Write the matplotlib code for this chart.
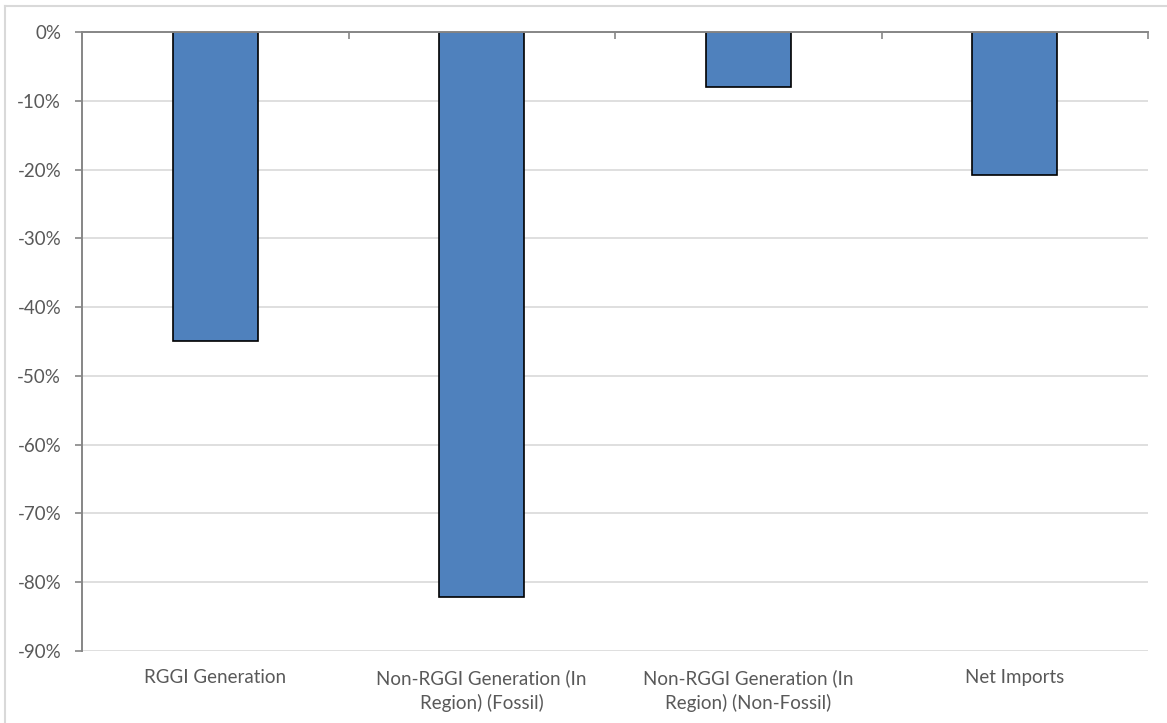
import matplotlib
matplotlib.use("Agg")
import matplotlib.pyplot as plt
from matplotlib.ticker import FixedLocator, FuncFormatter
from matplotlib.lines import Line2D

categories = [
    "RGGI Generation",
    "Non-RGGI Generation (In\nRegion) (Fossil)",
    "Non-RGGI Generation (In\nRegion) (Non-Fossil)",
    "Net Imports",
]
values = [-44.9, -82.2, -8.0, -20.8]
y_ticks = [0, -10, -20, -30, -40, -50, -60, -70, -80, -90]

bar_color = "#4f81bd"
text_color = "#595959"
axis_color = "#868686"
grid_color = "#d9d9d9"

plt.rcParams["font.family"] = ["Lato", "DejaVu Sans"]

fig = plt.figure(figsize=(11.67, 7.23), dpi=100)
ax = fig.add_axes([82 / 1167, 1 - 651 / 723, (1148 - 82) / 1167, (651 - 32) / 723])

x = list(range(len(categories)))
ax.bar(x, values, width=0.32, color=bar_color, edgecolor="black", linewidth=1.2, zorder=3)

ax.set_xlim(-0.5, len(categories) - 0.5)
ax.set_ylim(-90, 0)
ax.set_yticks(y_ticks)
ax.yaxis.set_major_formatter(FuncFormatter(lambda v, _: f"{v:.0f}%"))
ax.yaxis.grid(True, color=grid_color, linewidth=1.2, zorder=0)
ax.set_axisbelow(True)

# category labels along the bottom, separator ticks hanging from the zero line
ax.set_xticks(x)
ax.set_xticklabels(categories, fontsize=13.5, color=text_color, linespacing=1.46)
ax.tick_params(axis="x", which="major", length=0, pad=13, bottom=True, top=False)
ax.xaxis.set_minor_locator(FixedLocator([i - 0.5 for i in range(len(categories) + 1)]))
ax.tick_params(axis="x", which="minor", top=True, bottom=False, direction="in",
               length=5, width=1.2, color=axis_color)

ax.tick_params(axis="y", which="major", direction="out", length=5, width=1.2,
               color=axis_color, labelsize=13.5, labelcolor=text_color, pad=10)

for side in ("right", "bottom"):
    ax.spines[side].set_visible(False)
for side in ("left", "top"):
    ax.spines[side].set_color(axis_color)
    ax.spines[side].set_linewidth(1.4)
    ax.spines[side].set_zorder(4)

# chart area frame
fig.add_artist(Line2D([5 / 1167, 5 / 1167], [0, 1 - 6 / 723], transform=fig.transFigure,
                      color="#d9d9d9", linewidth=1.5))
fig.add_artist(Line2D([5 / 1167, 1], [1 - 6 / 723, 1 - 6 / 723], transform=fig.transFigure,
                      color="#d9d9d9", linewidth=1.5))

fig.savefig("out.png", dpi=100)
